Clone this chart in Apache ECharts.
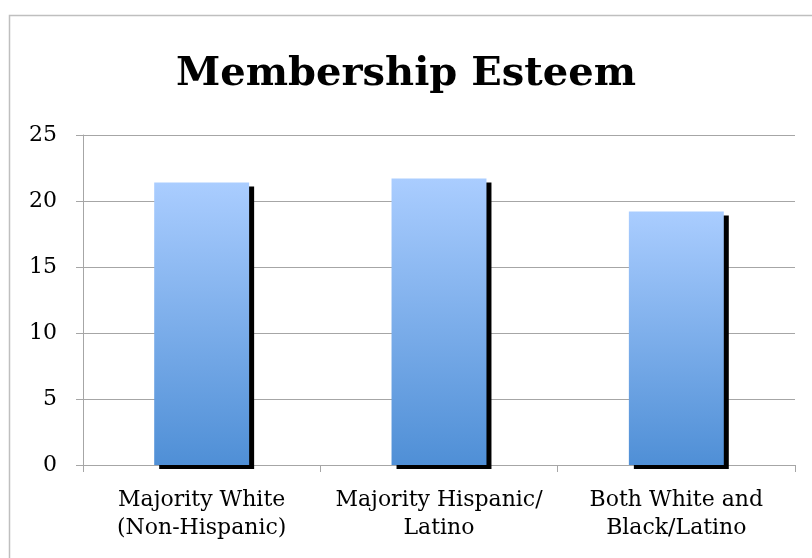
<!DOCTYPE html>
<html>
<head>
<meta charset="utf-8">
<script src="https://cdn.jsdelivr.net/npm/echarts@6/dist/echarts.min.js"></script>
<style>
  html, body { margin: 0; padding: 0; background: #fff; }
  #chart { width: 812px; height: 558px; }
</style>
</head>
<body>
<div id="chart"></div>
<script>
// Membership esteem by group composition
const titleText = 'Membership Esteem';
const categories = ['Majority White\n(Non-Hispanic)', 'Majority Hispanic/\nLatino', 'Both White and\nBlack/Latino'];
const esteemValues = [21.4, 21.7, 19.2];
const yTicks = [0, 5, 10, 15, 20, 25];

const serif = '"DejaVu Serif", "Liberation Serif", serif';
const chart = echarts.init(document.getElementById('chart'), null, { renderer: 'canvas' });

chart.setOption({
  animation: false,
  backgroundColor: '#ffffff',
  graphic: [{
    type: 'rect',
    left: 7, top: 13,
    shape: { width: 1000, height: 800 },
    style: { fill: 'none', stroke: '#bfbfbf', lineWidth: 1.5 },
    z: -10
  }],
  title: {
    text: titleText,
    left: 'center',
    top: 50,
    textStyle: { fontFamily: serif, fontWeight: 'bold', fontSize: 40, color: '#000' }
  },
  grid: { left: 83, right: 17, top: 135, bottom: 93 },
  xAxis: {
    type: 'category',
    data: categories,
    axisLine: { lineStyle: { color: '#a6a6a6', width: 1 } },
    axisTick: { show: true, alignWithLabel: false, length: 7, lineStyle: { color: '#a6a6a6' } },
    axisLabel: { fontFamily: serif, fontSize: 22, color: '#000', lineHeight: 28, margin: 21, interval: 0 }
  },
  yAxis: {
    type: 'value',
    min: yTicks[0],
    max: yTicks[yTicks.length - 1],
    interval: 5,
    axisLine: { show: true, lineStyle: { color: '#a6a6a6', width: 1 } },
    axisTick: { show: true, length: 7, lineStyle: { color: '#a6a6a6' } },
    splitLine: { lineStyle: { color: '#a6a6a6', width: 1 } },
    axisLabel: { fontFamily: serif, fontSize: 22, color: '#000', margin: 26 }
  },
  series: [{
    type: 'bar',
    data: esteemValues,
    barWidth: '40%',
    itemStyle: {
      color: {
        type: 'linear', x: 0, y: 0, x2: 0, y2: 1,
        colorStops: [
          { offset: 0, color: '#aacdff' },
          { offset: 1, color: '#4f8fd6' }
        ]
      },
      shadowColor: 'rgba(0,0,0,1)',
      shadowBlur: 0,
      shadowOffsetX: 5,
      shadowOffsetY: 4
    }
  }]
});
</script>
</body>
</html>
